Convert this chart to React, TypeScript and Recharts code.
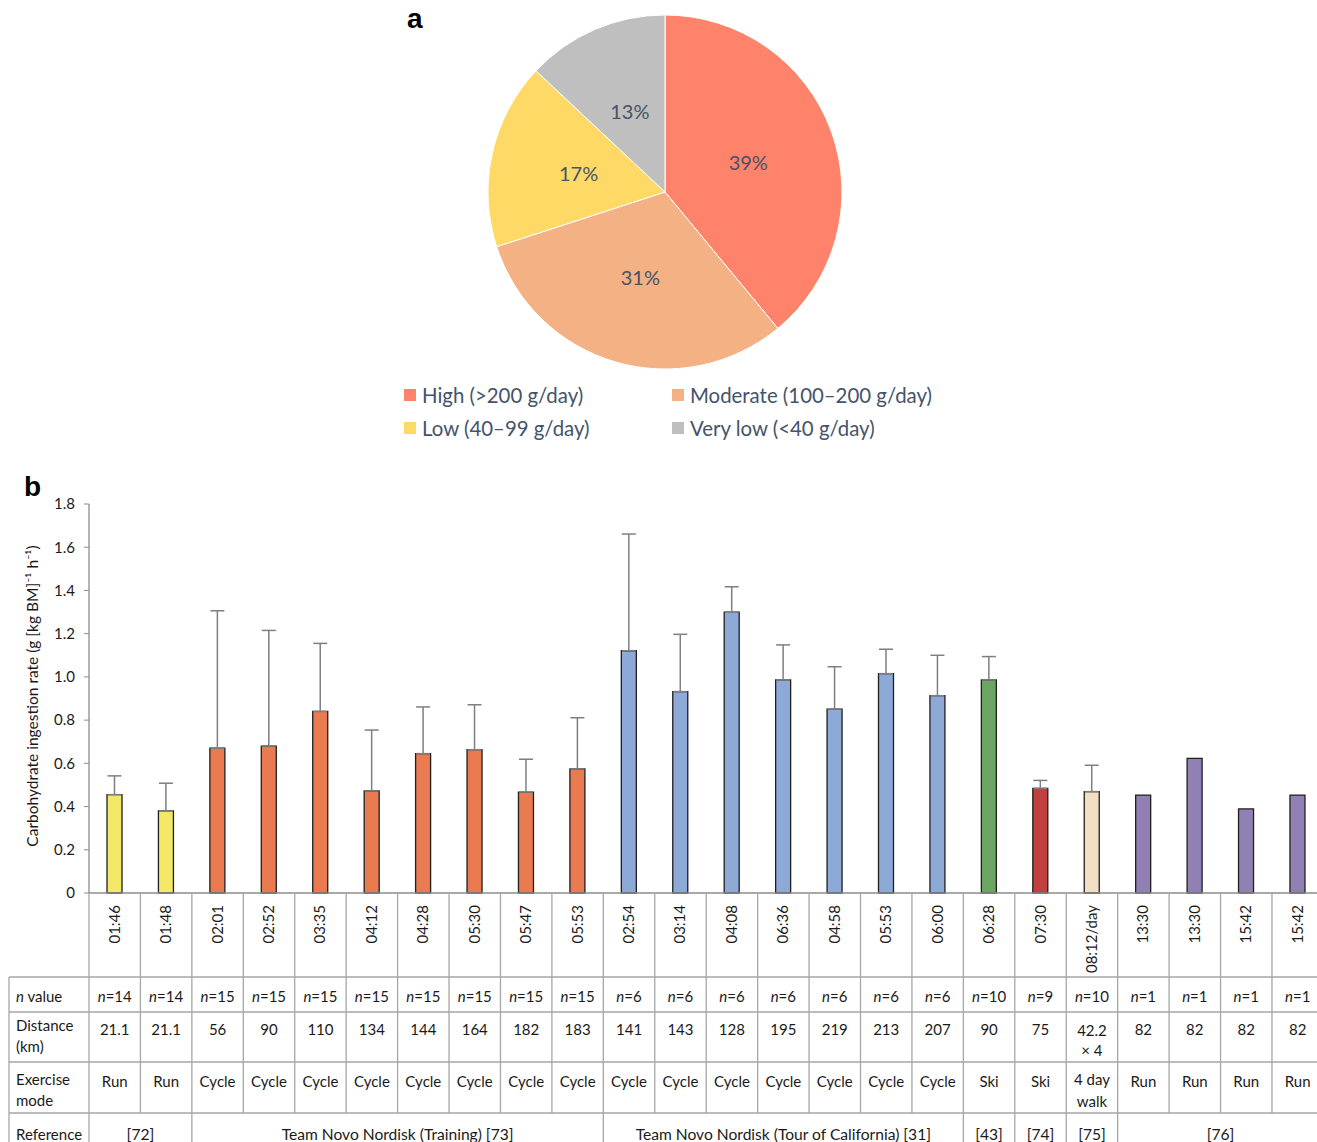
"use client"

import { PieChart, Pie, Cell, Legend, BarChart, Bar, XAxis, YAxis, ErrorBar } from "recharts"

// panel a – share of athletes by daily carbohydrate intake
const pieNames = ["High (>200 g/day)", "Moderate (100–200 g/day)", "Low (40–99 g/day)", "Very low (<40 g/day)"]
const pieShares = [39, 31, 17, 13]
const pieColors = ["#FF826A", "#F4B183", "#FFD966", "#BFBFBF"]

// panel b – ingestion rate per event
const times = ["01:46", "01:48", "02:01", "02:52", "03:35", "04:12", "04:28", "05:30", "05:47", "05:53", "02:54", "03:14", "04:08", "06:36", "04:58", "05:53", "06:00", "06:28", "07:30", "08:12/day", "13:30", "13:30", "15:42", "15:42"]
const rates = [0.455, 0.38, 0.67, 0.68, 0.84, 0.472, 0.645, 0.663, 0.467, 0.574, 1.121, 0.932, 1.299, 0.986, 0.851, 1.015, 0.913, 0.986, 0.484, 0.469, 0.453, 0.623, 0.389, 0.453]
const sds = [0.087, 0.128, 0.636, 0.535, 0.315, 0.282, 0.216, 0.208, 0.152, 0.237, 0.54, 0.265, 0.118, 0.162, 0.196, 0.113, 0.187, 0.108, 0.037, 0.122, null, null, null, null]
const nValues = [14, 14, 15, 15, 15, 15, 15, 15, 15, 15, 6, 6, 6, 6, 6, 6, 6, 10, 9, 10, 1, 1, 1, 1]
const distances = ["21.1", "21.1", "56", "90", "110", "134", "144", "164", "182", "183", "141", "143", "128", "195", "219", "213", "207", "90", "75", "42.2|× 4", "82", "82", "82", "82"]
const modes = ["Run", "Run", "Cycle", "Cycle", "Cycle", "Cycle", "Cycle", "Cycle", "Cycle", "Cycle", "Cycle", "Cycle", "Cycle", "Cycle", "Cycle", "Cycle", "Cycle", "Ski", "Ski", "4 day|walk", "Run", "Run", "Run", "Run"]
const barColors = ["#F3E867", "#F3E867", "#EA7B51", "#EA7B51", "#EA7B51", "#EA7B51", "#EA7B51", "#EA7B51", "#EA7B51", "#EA7B51", "#8DAAD6", "#8DAAD6", "#8DAAD6", "#8DAAD6", "#8DAAD6", "#8DAAD6", "#8DAAD6", "#6AA564", "#C0403F", "#F2DEC4", "#9080B3", "#9080B3", "#9080B3", "#9080B3"]
const refLabels = ["[72]", "Team Novo Nordisk (Training) [73]", "Team Novo Nordisk (Tour of California) [31]", "[43]", "[74]", "[75]", "[76]"]
const refSpans = [2, 8, 7, 1, 1, 1, 4]
const yTicks = [0, 0.2, 0.4, 0.6, 0.8, 1.0, 1.2, 1.4, 1.6, 1.8]

const FONT = "Lato, 'Noto Sans', sans-serif"
const GRID = "#A6A6A6"
const TEXT = "#44546A"
const FS = 15

const CHART_W = 1330
const M_LEFT = 39
const Y_W = 50
const M_RIGHT = 6.6
const BAND = (CHART_W - M_LEFT - Y_W - M_RIGHT) / times.length

const pieData = pieNames.map((name, i) => ({ name, value: pieShares[i] }))
const barData = times.map((t, i) => ({ id: i, time: t, rate: rates[i], err: sds[i] == null ? null : [0, sds[i]] }))

const refStarts: Record<number, { label: string; span: number }> = {}
let acc = 0
refLabels.forEach((label, i) => {
  refStarts[acc] = { label, span: refSpans[i] }
  acc += refSpans[i]
})

const RAD = Math.PI / 180
function pieLabel(p: any) {
  const r = p.outerRadius * 0.5
  const x = p.cx + r * Math.cos(-p.midAngle * RAD)
  const y = p.cy + r * Math.sin(-p.midAngle * RAD)
  return (
    <text x={x} y={y} fill={TEXT} fontSize={20} fontFamily={FONT} textAnchor="middle" dominantBaseline="central">
      {p.value}%
    </text>
  )
}

function PieLegend() {
  const pos = [[404, 395], [672, 395], [404, 428], [672, 428]]
  return (
    <div>
      {pieNames.map((n, i) => (
        <div key={n} style={{ position: "absolute", left: pos[i][0], top: pos[i][1] - 13, height: 26, display: "flex", alignItems: "center", whiteSpace: "nowrap" }}>
          <span style={{ width: 12, height: 12, background: pieColors[i], marginRight: 6, display: "inline-block" }} />
          <span style={{ fontSize: 20.4, color: TEXT, fontFamily: FONT }}>{n}</span>
        </div>
      ))}
    </div>
  )
}

function lines(s: string, x: number, y: number, gap: number) {
  return s.split("|").map((part, k) => (
    <text key={k} x={x} y={y + k * gap} textAnchor="middle" fontSize={FS} fill="#1a1a1a" fontFamily={FONT}>
      {part}
    </text>
  ))
}

function TableTick(props: any) {
  const { x, y } = props
  const i = props.index ?? props.payload?.index ?? 0
  const left = x - BAND / 2
  const two = (s: string) => s.includes("|")
  const ref = refStarts[i]
  const last = i === times.length - 1
  return (
    <g>
      {i === 0 && (
        <g>
          {[84, 119, 169, 220].map((dy) => (
            <line key={dy} x1={9} x2={CHART_W} y1={y + dy} y2={y + dy} stroke={GRID} strokeWidth={1.3} />
          ))}
          <line x1={9} x2={9} y1={y + 84} y2={y + 260} stroke={GRID} strokeWidth={1.3} />
          <text x={16} y={y + 109} fontSize={FS} fill="#1a1a1a" fontFamily={FONT}>
            <tspan fontStyle="italic">n</tspan> value
          </text>
          <text x={16} y={y + 138} fontSize={FS} fill="#1a1a1a" fontFamily={FONT}>Distance</text>
          <text x={16} y={y + 159} fontSize={FS} fill="#1a1a1a" fontFamily={FONT}>(km)</text>
          <text x={16} y={y + 192} fontSize={FS} fill="#1a1a1a" fontFamily={FONT}>Exercise</text>
          <text x={16} y={y + 213} fontSize={FS} fill="#1a1a1a" fontFamily={FONT}>mode</text>
          <text x={16} y={y + 247} fontSize={FS} fill="#1a1a1a" fontFamily={FONT}>Reference</text>
        </g>
      )}
      <line x1={left} x2={left} y1={y} y2={ref ? y + 260 : y + 220} stroke={GRID} strokeWidth={1.3} />
      {last && <line x1={left + BAND} x2={left + BAND} y1={y} y2={y + 260} stroke={GRID} strokeWidth={1.3} />}
      <text transform={`translate(${x + 5},${y + 12}) rotate(-90)`} textAnchor="end" fontSize={FS} fill="#1a1a1a" fontFamily={FONT}>
        {times[i]}
      </text>
      <text x={x} y={y + 109} textAnchor="middle" fontSize={FS} fill="#1a1a1a" fontFamily={FONT}>
        <tspan fontStyle="italic">n</tspan>={nValues[i]}
      </text>
      {lines(distances[i], x, two(distances[i]) ? y + 143 : y + 142, 20)}
      {lines(modes[i], x, two(modes[i]) ? y + 192 : y + 194, 22)}
      {ref && (
        <text x={left + (ref.span * BAND) / 2} y={y + 247} textAnchor="middle" fontSize={FS + 0.6} fill="#1a1a1a" fontFamily={FONT}>
          {ref.label}
        </text>
      )}
    </g>
  )
}

function YLabel() {
  return (
    <text transform="translate(32,226) rotate(-90)" textAnchor="middle" dominantBaseline="central" fontSize={15.5} fill="#1a1a1a" fontFamily={FONT}>
      Carbohydrate ingestion rate (g [kg BM]⁻¹ h⁻¹)
    </text>
  )
}

export default function App() {
  return (
    <div style={{ position: "absolute", left: 0, top: 0, width: 1317, height: 1142, overflow: "hidden", background: "#fff", fontFamily: FONT }}>
      <div style={{ position: "absolute", left: 0, top: 0 }}>
        <PieChart width={1317} height={470} margin={{ top: 0, right: 0, bottom: 0, left: 0 }}>
          <Pie
            data={pieData}
            dataKey="value"
            nameKey="name"
            cx={665}
            cy={192}
            outerRadius={177}
            startAngle={90}
            endAngle={-270}
            stroke="#fff"
            strokeWidth={1}
            labelLine={false}
            label={pieLabel}
            isAnimationActive={false}
          >
            {pieData.map((d, i) => (
              <Cell key={d.name} fill={pieColors[i]} />
            ))}
          </Pie>
          <Legend content={() => <PieLegend />} wrapperStyle={{ position: "absolute", left: 0, top: 0, width: 0, height: 0 }} />
        </PieChart>
      </div>
      <div style={{ position: "absolute", left: 407, top: 3, fontFamily: "'Liberation Sans', Arial, sans-serif", fontWeight: "bold", fontSize: 28 }}>a</div>
      <div style={{ position: "absolute", left: 24, top: 471, fontFamily: "'Liberation Sans', Arial, sans-serif", fontWeight: "bold", fontSize: 28 }}>b</div>
      <div style={{ position: "absolute", left: 0, top: 470 }}>
        <BarChart width={CHART_W} height={672} data={barData} margin={{ top: 34, right: M_RIGHT, bottom: 0, left: M_LEFT }} barSize={15}>
          <XAxis
            dataKey="id"
            type="category"
            interval={0}
            height={249}
            tickSize={0}
            tickMargin={0}
            tickLine={false}
            axisLine={{ stroke: "#8C8C8C", strokeWidth: 1.3 }}
            tick={<TableTick />}
          />
          <YAxis
            width={Y_W}
            domain={[0, 1.8]}
            ticks={yTicks}
            tickFormatter={(v: number) => (v === 0 ? "0" : v.toFixed(1))}
            tickSize={5}
            tickMargin={9}
            axisLine={{ stroke: "#8C8C8C", strokeWidth: 1.3 }}
            tickLine={{ stroke: "#8C8C8C" }}
            tick={{ fontSize: 15, fill: "#1a1a1a", fontFamily: FONT }}
            label={<YLabel />}
          />
          <Bar dataKey="rate" stroke="#1f1f1f" strokeWidth={1.3} isAnimationActive={false}>
            {barData.map((d, i) => (
              <Cell key={d.id} fill={barColors[i]} />
            ))}
            <ErrorBar dataKey="err" width={7} stroke="#7F7F7F" strokeWidth={1.5} />
          </Bar>
        </BarChart>
      </div>
    </div>
  )
}
